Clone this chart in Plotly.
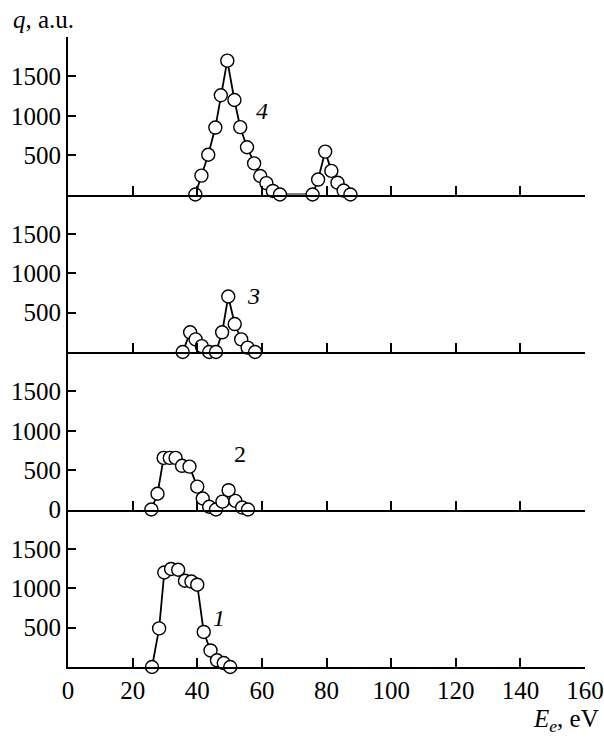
import plotly.graph_objects as go
from plotly.subplots import make_subplots

# Curve 1
x1 = [26, 28.2, 29.8, 31.9, 34.1, 36.2, 38.2, 40, 42, 44.1, 46.1, 48.2, 50.2]
y1 = [0, 490, 1200, 1245, 1235, 1095, 1085, 1045, 445, 210, 85, 50, 0]
# Curve 2
x2 = [25.8, 27.7, 29.6, 31.5, 33.3, 35.3, 37.6, 40, 41.7, 43.7, 45.8, 47.8, 49.7, 51.8, 53.9, 55.7]
y2 = [0, 200, 655, 655, 655, 555, 545, 290, 140, 35, 0, 100, 245, 110, 25, 0]
# Curve 3
x3 = [35.5, 37.8, 39.5, 41.4, 43.7, 45.8, 47.7, 49.6, 51.6, 53.6, 55.6, 57.9]
y3 = [0, 250, 160, 75, 0, 0, 250, 705, 355, 160, 55, 0]
# Curve 4
x4 = [39.4, 41.3, 43.4, 45.6, 47.3, 49.3, 51.5, 53.3, 55.4, 57.6, 59.5, 61.4, 63.4, 65.6,
      75.7, 77.4, 79.6, 81.5, 83.4, 85.3, 87.4]
y4 = [0, 240, 505, 850, 1260, 1700, 1200, 855, 600, 395, 235, 145, 45, 0,
      0, 190, 545, 300, 150, 50, 0]

curve_labels = ["1", "2", "3", "4"]
label_x = [46.6, 53.3, 57.4, 60.0]
label_y = [617, 700, 713, 1060]
label_italic = [True, False, True, True]

x_ticks = [0, 20, 40, 60, 80, 100, 120, 140, 160]
y_ticks = [500, 1000, 1500]

FONT = "Liberation Serif"
series = [(x4, y4), (x3, y3), (x2, y2), (x1, y1)]  # top row -> bottom row
rowlabels = [3, 2, 1, 0]

fig = make_subplots(rows=4, cols=1, shared_xaxes=True, vertical_spacing=0)

for r, (xs, ys) in enumerate(series, start=1):
    fig.add_trace(go.Scatter(
        x=xs, y=ys, mode="lines+markers", cliponaxis=False,
        line=dict(color="black", width=1.8),
        marker=dict(symbol="circle", size=13, color="white",
                    line=dict(color="black", width=1.4)),
        showlegend=False), row=r, col=1)
    idx = rowlabels[r - 1]
    txt = curve_labels[idx]
    if label_italic[idx]:
        txt = "<i>" + txt + "</i>"
    fig.add_annotation(x=label_x[idx], y=label_y[idx], text=txt, showarrow=False,
                       font=dict(family=FONT, size=24, color="black"),
                       row=r, col=1)
    tv = ([0] + y_ticks) if r == 3 else y_ticks
    fig.update_yaxes(range=[0, 2000], tickvals=tv, ticktext=[str(v) for v in tv],
                     ticks="inside", ticklen=8, tickwidth=1.5, tickcolor="black",
                     showline=True, linecolor="black", linewidth=1.8,
                     showgrid=False, zeroline=False, automargin=False,
                     tickfont=dict(family=FONT, size=25, color="black"),
                     row=r, col=1)
    fig.update_xaxes(range=[0, 160], tickvals=x_ticks,
                     ticktext=[str(v) for v in x_ticks],
                     showticklabels=(r == 4),
                     ticks="inside", ticklen=9, tickwidth=1.5, tickcolor="black",
                     showline=True, linecolor="black", linewidth=1.8,
                     showgrid=False, zeroline=False, automargin=False,
                     tickfont=dict(family=FONT, size=25, color="black"),
                     row=r, col=1)

fig.add_annotation(xref="paper", yref="paper", x=-0.110, y=1.027, xanchor="left",
                   yanchor="middle", showarrow=False,
                   text="<i>q</i>, a.u.",
                   font=dict(family=FONT, size=25, color="black"))
fig.add_annotation(xref="paper", yref="paper", x=1.031, y=-0.085, xanchor="right",
                   yanchor="middle", showarrow=False,
                   text="<i>E<sub>e</sub></i>, eV",
                   font=dict(family=FONT, size=25, color="black"))

fig.update_layout(width=604, height=739,
                  margin=dict(l=68, r=19, t=37, b=72),
                  plot_bgcolor="white", paper_bgcolor="white",
                  font=dict(family=FONT, color="black"))

fig.write_html("out.html", config={"displayModeBar": False},
               post_script="document.body.style.margin='0px';")
